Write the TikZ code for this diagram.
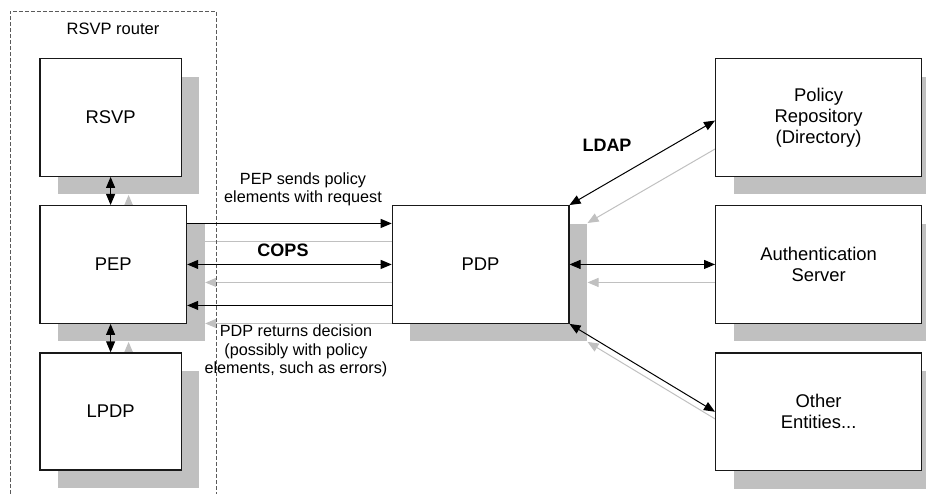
\documentclass[tikz,border=0pt]{standalone}
\usepackage{fontspec}
\setmainfont{Liberation Sans}
\usetikzlibrary{arrows.meta,shadows,calc}

\definecolor{shadowgray}{RGB}{192,192,192}
\definecolor{framegray}{RGB}{90,90,90}

\pgfdeclarelayer{background}
\pgfsetlayers{background,main}

\tikzset{
  box/.style={draw=black!90, line width=1.2pt, fill=white, inner sep=0pt,
    anchor=north west, align=center,
    font=\fontsize{18.4}{21}\selectfont,
    drop shadow={shadow xshift=18pt, shadow yshift=-18pt,
                 fill=shadowgray, opacity=1}},
  note/.style={inner sep=0pt, align=center, font=\fontsize{16.2}{18.4}\selectfont},
  proto/.style={inner sep=0pt, anchor=base, font=\bfseries\fontsize{18}{21}\selectfont},
  link/.style={draw=black, line width=1pt},
  >={Triangle[length=11pt,width=9pt]},
}

% all connectors; drawn once as a grey shadow and once in black
\newcommand\drawlinks{%
  \draw[link,<->] (rsvp.south) -- (rsvp.south |- pep.north);
  \draw[link,<->] (lpdp.north) -- (lpdp.north |- pep.south);
  \draw[link,->] ([yshift=41pt]pep.east) -- ([yshift=41pt]pep.east -| pdp.west);
  \draw[link,<->] (pep.east) -- (pdp.west);
  \draw[link,->] ([yshift=-41pt]pdp.west) -- ([yshift=-41pt]pdp.west -| pep.east);
  \draw[link,<->] (pdp.north east) -- ([yshift=-3pt]repo.west);
  \draw[link,<->] (pdp.east) -- (auth.west);
  \draw[link,<->] (pdp.south east) -- (other.west);
}

\begin{document}
\begin{tikzpicture}[x=1pt,y=-1pt]
  \useasboundingbox (0,0) rectangle (926,494);

  % router frame (open at the lower edge)
  \draw[framegray, line width=0.8pt, dash pattern=on 4pt off 2pt]
    (10,494) -- (10,11) -- (216,11) -- (216,494);
  \node[note, anchor=base, font=\fontsize{16.5}{19}\selectfont] (router) at (113,35) {RSVP router};

  % boxes
  \node[box, minimum width=141.4pt, minimum height=117.4pt] (rsvp) at (39.3,58.3) {RSVP};
  \node[box, minimum width=146.7pt, minimum height=117.7pt] (pep)  at (39.3,205) {PEP};
  \node[box, minimum width=141.4pt, minimum height=117pt]   (lpdp) at (39.3,352.3) {LPDP};
  \node[box, minimum width=176.6pt, minimum height=117.7pt] (pdp)  at (391.7,205) {PDP};
  \node[box, minimum width=206pt, minimum height=117.4pt] (repo)  at (715,58.3) {Policy\\Repository\\(Directory)};
  \node[box, minimum width=206pt, minimum height=117.7pt] (auth)  at (715,205) {Authentication\\Server};
  \node[box, minimum width=206pt, minimum height=117.7pt] (other) at (715,352.3) {Other\\Entities...};

  % connector shadows
  \begin{pgfonlayer}{background}
    \begin{scope}[transform canvas={xshift=18pt,yshift=-18pt},
                  link/.style={draw=shadowgray, line width=1pt}]
      \drawlinks
    \end{scope}
  \end{pgfonlayer}

  % connectors
  \drawlinks

  % labels
  \node[proto] (cops) at (283,256.7) {COPS};
  \node[proto] (ldap) at (607,151.7) {LDAP};
  \node[note] (req) at (303,189.5) {PEP sends policy\\elements with request};
  \node[note] (dec) at (296,351) {PDP returns decision\\(possibly with policy\\elements, such as errors)};
\end{tikzpicture}
\end{document}
